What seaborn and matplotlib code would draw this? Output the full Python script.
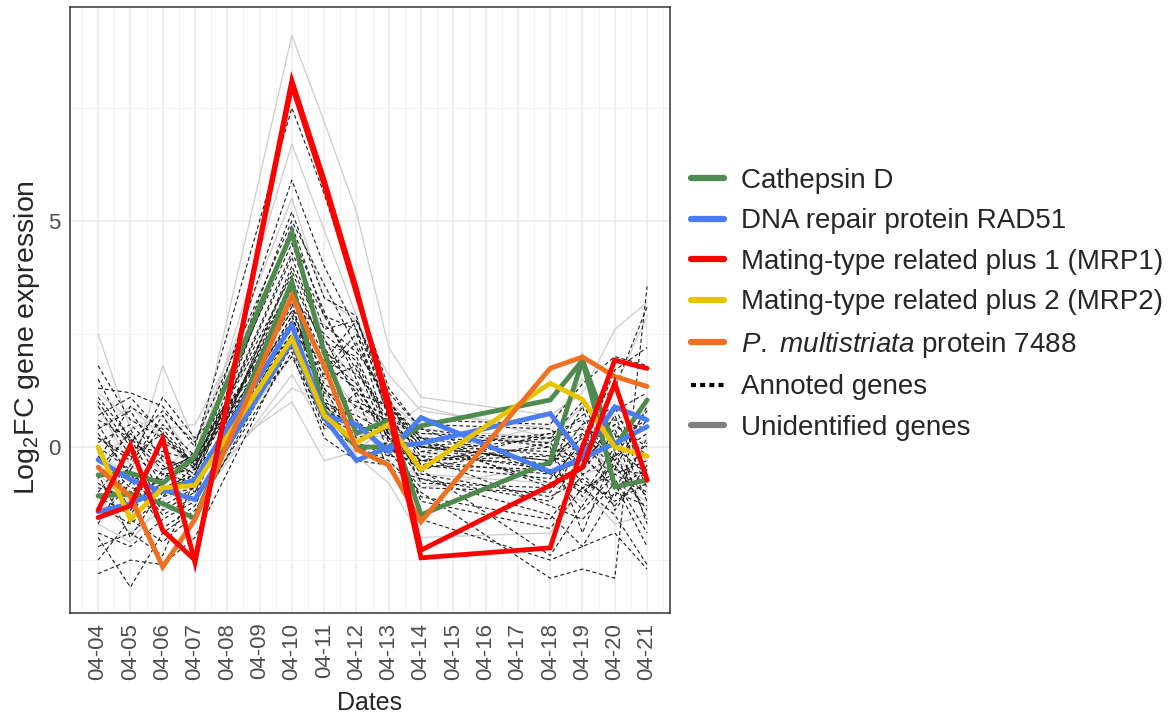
import matplotlib
matplotlib.use('Agg')
import numpy as np
import pandas as pd
import matplotlib.pyplot as plt
from matplotlib.lines import Line2D
import seaborn as sns

###
#   STYLE
###
sns.set_style('white')
plt.rcParams['font.family'] = ['Liberation Sans', 'DejaVu Sans']
plt.rcParams['mathtext.fontset'] = 'custom'
plt.rcParams['mathtext.rm'] = 'Liberation Sans'
plt.rcParams['mathtext.it'] = 'Liberation Sans:italic'

###
#   DATA
###
all_days = ['04-04', '04-05', '04-06', '04-07', '04-08', '04-09', '04-10', '04-11', '04-12',
            '04-13', '04-14', '04-15', '04-16', '04-17', '04-18', '04-19', '04-20', '04-21']
sample_days = ['04-04', '04-05', '04-06', '04-07', '04-10', '04-11', '04-12',
               '04-13', '04-14', '04-18', '04-19', '04-20', '04-21']

# highlighted genes (two transcripts for some)
cathepsin_a = [-0.62, -0.58, -0.80, -0.20, 4.74, 2.10, 0.30, 0.60, -1.50, -0.33, 1.92, 0.00, 1.04]
cathepsin_b = [-1.08, -1.04, -1.25, -1.58, 3.65, 0.80, 0.00, 0.00, 0.47, 1.04, 1.92, -0.88, -0.73]
rad51_a = [-0.28, -0.72, -0.99, -0.72, 2.70, 0.70, 0.50, -0.10, 0.65, -0.55, -0.25, 0.08, 0.45]
rad51_b = [-1.43, -1.25, -0.94, -1.16, 2.33, 0.65, -0.30, 0.00, 0.08, 0.74, -0.20, 0.89, 0.60]
mrp1_a = [-1.56, -1.30, 0.19, -2.55, 8.10, 5.90, 3.50, 0.80, -2.45, -2.23, 0.00, 1.92, 1.74]
mrp1_b = [-1.40, 0.04, -1.84, -2.50, 8.00, 5.80, 3.40, 1.00, -2.28, -0.85, -0.45, 1.41, -0.73]
mrp2 = [0.00, -1.60, -0.90, -0.85, 2.40, 0.70, 0.10, 0.50, -0.50, 1.41, 1.05, 0.00, -0.20]
prot7488 = [-0.45, -1.10, -2.65, -1.60, 3.35, 1.80, -0.05, -0.40, -1.65, 1.74, 1.99, 1.56, 1.34]

# unidentified genes (grey)
unid_1 = [2.5, 0.4, 0.7, -0.3, 9.1, 7.2, 5.2, 2.2, 1.1, 0.7, 1.2, 2.6, 3.2]
unid_2 = [-0.6, -1.2, -0.8, -0.4, 6.7, 4.8, 2.9, 1.0, 0.4, 0.2, 0.9, 1.3, 2.9]
unid_3 = [-0.2, -0.6, 1.8, 0.1, 5.5, 3.3, 2.8, 1.6, 0.8, 0.4, 0.0, -0.5, -1.0]
unid_4 = [-1.1, -1.9, -1.4, -1.0, 1.3, 1.0, -0.2, -0.8, -2.0, -1.9, -0.9, -1.7, -1.5]
unid_5 = [0.4, 0.9, 0.2, -0.5, 1.0, -0.3, -0.1, 0.5, 0.3, 0.1, -0.6, -0.4, 0.2]
unid_6 = [0.9, -0.4, -0.9, -1.3, 1.6, 0.4, 0.6, -0.4, -0.6, -0.8, -1.2, -0.2, -0.9]
unid_7 = [-1.7, -2.1, -1.2, -0.8, 2.0, 1.2, 0.3, 0.2, -0.2, 0.5, 1.5, 0.6, 0.8]
unid_8 = [-0.3, 0.3, -0.6, 0.2, 3.2, 1.9, 0.8, 0.4, 0.9, 0.2, -0.3, 0.3, -0.3]
unid_9 = [1.2, 0.6, 0.4, 0.5, 4.6, 2.4, 1.4, 0.8, -0.9, -0.4, 0.5, -0.8, -1.2]

# annotated genes (black dashed)
annot_01 = [1.8, 0.6, 0.2, -0.4, 5.9, 4.0, 2.6, 1.0, 0.2, -0.2, 0.3, 0.8, 1.2]
annot_02 = [1.3, 1.2, 0.9, 0.0, 7.5, 5.6, 3.4, 1.3, 0.4, 0.0, -0.3, 0.2, 0.6]
annot_03 = [0.9, -0.2, -0.6, -0.5, 5.2, 3.3, 2.9, 0.6, -0.1, -0.5, -0.9, -0.6, -0.3]
annot_04 = [0.4, 0.8, -0.3, -0.8, 4.9, 2.9, 2.6, 0.2, -0.4, 0.3, 0.6, -0.3, -1.1]
annot_05 = [0.0, -0.5, 0.5, -0.2, 4.5, 2.6, 2.8, 1.0, 0.1, -0.8, -0.4, 0.5, 0.0]
annot_06 = [-0.2, -0.9, -1.0, -0.6, 4.2, 2.3, 2.0, 0.4, -0.6, -1.1, -0.7, -1.2, -0.8]
annot_07 = [-0.5, 0.3, -0.4, -1.0, 3.9, 2.1, 1.6, 0.8, 0.0, -0.3, 0.2, 0.6, 0.4]
annot_08 = [-0.8, -1.3, -0.8, -0.3, 3.6, 1.8, 1.3, 0.3, -0.3, -0.6, -1.0, -0.4, -1.4]
annot_09 = [-1.0, -0.1, -1.3, -0.9, 3.3, 1.5, 1.8, 0.1, 0.5, 0.4, -0.2, -0.9, -0.5]
annot_10 = [-1.3, -1.7, -1.1, -0.4, 3.1, 1.2, 1.0, 0.7, -0.8, -0.9, -0.5, 0.3, -1.7]
annot_11 = [-1.6, -0.8, -0.2, -0.7, 2.9, 1.0, 0.6, -0.1, -0.2, -1.3, -1.6, -0.8, -2.2]
annot_12 = [-1.9, -2.2, -1.6, -1.2, 2.7, 0.7, 0.3, 0.5, -1.2, -1.8, -0.9, -1.5, -2.6]
annot_13 = [-2.2, -1.9, -2.4, -0.7, 2.5, 0.9, 0.4, 0.0, -0.5, -2.4, -1.3, -0.2, 0.8]
annot_14 = [-2.8, -2.5, -2.6, -2.0, 2.3, 0.5, 0.0, -0.3, -1.0, -2.9, -2.7, -2.9, 3.55]
annot_15 = [-2.0, -3.1, -1.9, -1.4, 2.1, 0.2, -0.3, -0.4, -1.6, -2.5, -2.2, -1.9, -2.7]
annot_16 = [0.7, 1.1, 0.3, -0.5, 2.0, 0.6, 1.2, 0.9, 0.2, 0.1, 0.7, 1.3, 3.1]
annot_17 = [0.2, -0.3, 1.1, 0.2, 2.4, 1.3, 0.5, -0.2, 0.6, 0.5, 1.4, 2.0, 1.8]
annot_18 = [-0.4, -1.0, -0.7, -0.1, 3.0, 2.7, 2.1, 1.1, -0.4, -0.7, 0.1, -0.7, -1.9]
annot_19 = [-0.7, 0.4, -0.9, -0.6, 3.5, 2.0, 1.4, 0.2, 0.0, -0.1, -1.1, 0.0, -0.6]
annot_20 = [0.3, -0.6, -1.5, -1.1, 4.0, 2.4, 1.1, -0.5, -0.7, -1.5, -2.2, -1.0, -1.3]
annot_21 = [-1.1, -1.5, -0.5, -0.2, 2.6, 1.6, 2.3, 0.9, 0.1, -0.4, 0.9, -1.4, -0.4]
annot_22 = [1.0, 0.0, -0.1, -0.3, 3.8, 0.9, 0.7, 0.3, -0.3, -0.2, -0.5, 0.7, -0.9]
annot_23 = [-0.1, -1.4, -0.6, -0.8, 2.2, 0.4, 0.9, 0.6, 0.3, 0.2, 0.4, -0.3, 0.6]
annot_24 = [-1.4, -0.4, 0.7, -0.5, 4.7, 3.0, 1.5, -0.1, -0.9, -1.0, 0.0, 0.5, -0.2]
annot_25 = [0.5, -0.7, -1.8, -1.3, 3.4, 1.1, 0.2, 0.4, -0.4, -0.5, -1.4, -0.6, -1.0]
annot_26 = [0.6, 0.2, -0.5, -0.2, 3.0, 1.4, 0.9, 0.5, 0.0, 0.3, -0.6, -0.2, 0.3]
annot_27 = [-0.3, 0.9, 0.4, -0.4, 2.8, 1.7, 2.5, 0.7, -0.2, -0.4, 0.5, 0.9, -0.7]
annot_28 = [1.1, 0.2, -1.1, -0.9, 3.7, 2.2, 1.2, 0.2, -0.5, 0.1, -0.8, -1.1, 0.2]
annot_29 = [-0.9, -1.1, 0.1, -0.3, 2.5, 1.9, 2.8, 1.2, 0.4, -0.6, -0.3, 0.4, -1.2]
annot_30 = [0.1, 0.5, -0.2, -0.6, 4.3, 2.9, 1.7, 0.6, -0.1, 0.2, 1.0, -0.5, -0.6]
annot_31 = [-1.7, -0.5, -1.4, -1.0, 3.2, 0.8, 0.5, 0.2, -0.7, -1.2, -0.2, -0.9, 0.1]
annot_32 = [1.5, 0.1, 0.8, 0.1, 5.0, 3.6, 2.2, 0.9, 0.0, -0.3, -0.1, 1.7, 2.2]
annot_33 = [-0.6, -2.0, -0.9, -0.7, 2.9, 1.3, 0.1, -0.2, -0.3, 0.0, -1.9, -0.1, -1.6]
annot_34 = [0.2, -0.2, 0.3, -0.4, 3.3, 2.5, 1.9, 0.3, 0.2, -0.9, 0.3, -0.5, 0.9]
annot_35 = [-2.5, -1.6, -2.1, -1.5, 2.4, 1.0, -0.1, 0.1, -1.1, -1.6, -0.6, -1.3, -0.5]

unid_genes = [unid_1, unid_2, unid_3, unid_4, unid_5, unid_6, unid_7, unid_8, unid_9]
annot_genes = [annot_01, annot_02, annot_03, annot_04, annot_05, annot_06, annot_07, annot_08,
               annot_09, annot_10, annot_11, annot_12, annot_13, annot_14, annot_15, annot_16,
               annot_17, annot_18, annot_19, annot_20, annot_21, annot_22, annot_23, annot_24,
               annot_25, annot_26, annot_27, annot_28, annot_29, annot_30, annot_31, annot_32,
               annot_33, annot_34, annot_35]
highlight = [('Cathepsin D', 'cath_a', cathepsin_a),
             ('Cathepsin D', 'cath_b', cathepsin_b),
             ('DNA repair protein RAD51', 'rad_a', rad51_a),
             ('DNA repair protein RAD51', 'rad_b', rad51_b),
             ('Mating-type related plus 2 (MRP2)', 'mrp2', mrp2),
             ('P. multistriata protein 7488', 'p7488', prot7488),
             ('Mating-type related plus 1 (MRP1)', 'mrp1_a', mrp1_a),
             ('Mating-type related plus 1 (MRP1)', 'mrp1_b', mrp1_b)]

palette = {'Cathepsin D': '#4f8a4f',
           'DNA repair protein RAD51': '#4a7cf2',
           'Mating-type related plus 1 (MRP1)': '#ff0000',
           'Mating-type related plus 2 (MRP2)': '#e8c400',
           'P. multistriata protein 7488': '#ee7020'}
draw_order = ['Cathepsin D', 'DNA repair protein RAD51', 'Mating-type related plus 2 (MRP2)',
              'P. multistriata protein 7488', 'Mating-type related plus 1 (MRP1)']

pos = [all_days.index(d) for d in sample_days]


def to_long(genes, names, family=None):
    rows = []
    for name, vals in zip(names, genes):
        for p, v in zip(pos, vals):
            rows.append({'gene': name, 'family': family, 'pos': p, 'value': v})
    return pd.DataFrame(rows)


df_unid = to_long(unid_genes, ['u%d' % i for i in range(len(unid_genes))])
df_annot = to_long(annot_genes, ['a%d' % i for i in range(len(annot_genes))])
df_high = pd.concat([to_long([vals], [name], fam) for fam, name, vals in highlight])

###
#   FIGURE
###
fig = plt.figure(figsize=(11.74, 7.22), dpi=100)
ax = fig.add_axes([70 / 1174, 109 / 722, 600 / 1174, 606 / 722])

sns.lineplot(data=df_unid, x='pos', y='value', units='gene', estimator=None,
             color='#cccccc', linewidth=0.9, ax=ax, legend=False)
sns.lineplot(data=df_annot, x='pos', y='value', units='gene', estimator=None,
             color='#1a1a1a', linewidth=0.8, linestyle=(0, (3.5, 2.5)), ax=ax, legend=False)
for fam in draw_order:
    sns.lineplot(data=df_high[df_high['family'] == fam], x='pos', y='value', units='gene',
                 estimator=None, color=palette[fam], linewidth=3.5, ax=ax, legend=False,
                 solid_joinstyle='miter')

###
#   AXES
###
ax.set_xlim(-0.87, 17.71)
ax.set_ylim(-3.67, 9.73)
ax.set_xticks(range(len(all_days)))
ax.set_xticklabels(all_days, rotation=90, fontsize=16, color='#4d4d4d')
ax.set_xticks(np.arange(-0.5, len(all_days), 1), minor=True)
ax.set_yticks([0, 5])
ax.set_yticklabels(['0', '5'], fontsize=16, color='#4d4d4d')
ax.set_yticks([-2.5, 2.5, 7.5], minor=True)
ax.tick_params(which='major', length=4, width=1, color='#333333', pad=3)
ax.tick_params(which='minor', length=0)
ax.grid(which='major', color='#ebebeb', linewidth=1.1)
ax.grid(which='minor', color='#f3f3f3', linewidth=0.7)
ax.set_axisbelow(True)
for sp in ax.spines.values():
    sp.set_color('#333333')
    sp.set_linewidth(1.1)

ax.set_xlabel('Dates', fontsize=18, labelpad=8)
ax.set_ylabel(r'Log$_2$FC gene expression', fontsize=20.5)
ax.yaxis.set_label_coords(-0.047, 0.455)

###
#   LEGEND
###
handles = [Line2D([], [], color=palette['Cathepsin D'], lw=4.5),
           Line2D([], [], color=palette['DNA repair protein RAD51'], lw=4.5),
           Line2D([], [], color=palette['Mating-type related plus 1 (MRP1)'], lw=4.5),
           Line2D([], [], color=palette['Mating-type related plus 2 (MRP2)'], lw=4.5),
           Line2D([], [], color=palette['P. multistriata protein 7488'], lw=4.5),
           Line2D([], [], color='black', lw=3, linestyle=(0, (1.2, 1))),
           Line2D([], [], color='#808080', lw=4.5)]
labels = ['Cathepsin D', 'DNA repair protein RAD51', 'Mating-type related plus 1 (MRP1)',
          'Mating-type related plus 2 (MRP2)', r'$\mathit{P.}$ $\mathit{multistriata}$ protein 7488',
          'Annoted genes', 'Unidentified genes']
fig.legend(handles, labels, loc='upper left', bbox_to_anchor=(666 / 1174, 1 - 143 / 722),
           frameon=False, fontsize=20, handlelength=1.2, handletextpad=0.6, labelspacing=0.52)

fig.savefig('out.png', dpi=100)
